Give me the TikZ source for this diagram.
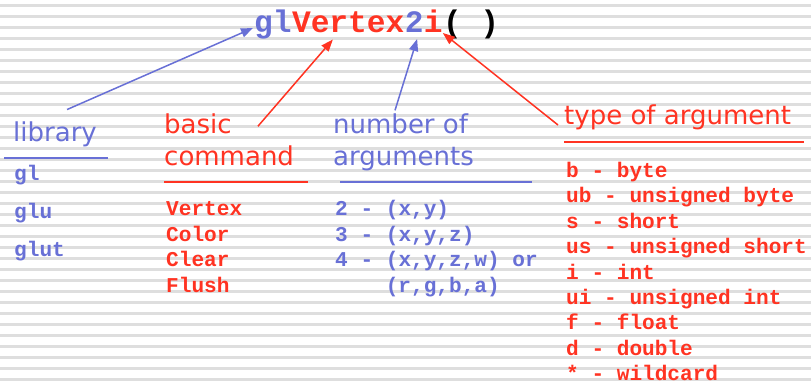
\documentclass[tikz,border=0pt]{standalone}
\usepackage{fontspec}
\newfontfamily\codefont{Liberation Mono}
\newfontfamily\headfont{DejaVu Sans}
\usetikzlibrary{arrows.meta,calc}

\definecolor{libblue}{RGB}{104,112,214}
\definecolor{cmdred}{RGB}{255,51,34}

\tikzset{
  stripe/.style={line width=2.4pt, black!13},
  titlepart/.style={inner sep=0pt, anchor=base west, font=\codefont\bfseries\fontsize{31.2}{31.2}\selectfont},
  header/.style={inner sep=0pt, anchor=base west, font=\headfont\fontsize{26}{26}\selectfont},
  code/.style={inner sep=0pt, anchor=base west, font=\codefont\bfseries\fontsize{21.1}{21.1}\selectfont},
  rule/.style={line width=1.4pt},
  pointer/.style={line width=1.5pt, -{Triangle[length=12pt,width=9pt]}},
}

\begin{document}
\begin{tikzpicture}[x=1pt,y=1pt]
  % page and striped background
  \useasboundingbox (0,0) rectangle (811,-383);
  \fill[white] (0,0) rectangle (811,-383);
  \foreach \k in {0,...,34}
    \draw[stripe] (0,-5.5-11*\k) -- (811,-5.5-11*\k);

  % the function name, one node per part
  \node[titlepart, libblue] (tgl) at (254,-32.5) {gl};
  \node[titlepart, cmdred] (tvertex) at (tgl.base east) {Vertex};
  \node[titlepart, libblue] (ttwo) at (tvertex.base east) {2};
  \node[titlepart, cmdred] (ti) at (ttwo.base east) {i};
  \node[titlepart, black] (tparen) at (ti.base east) {( )};

  % column headers
  \node[header, libblue] (library) at (13,-141.5) {library};
  \node[header, cmdred] (basic) at (164,-133.3) {basic};
  \node[header, cmdred] (command) at (164,-165) {command};
  \node[header, libblue] (number) at (333,-133.3) {number of};
  \node[header, libblue] (arguments) at (333,-165) {arguments};
  \node[header, cmdred] (type) at (564,-124) {type of argument};

  % rules under the headers
  \draw[rule, libblue] (4,-158) -- (108,-158);
  \draw[rule, cmdred] (164,-182) -- (308,-182);
  \draw[rule, libblue] (340,-182) -- (532,-182);
  \draw[rule, cmdred] (564,-142) -- (804,-142);

  % column entries
  \foreach \name [count=\i] in {gl, glu, glut}
    \node[code, libblue] (lib\i) at (14,{-180-38.4*(\i-1)}) {\name};
  \foreach \name [count=\i] in {Vertex, Color, Clear, Flush}
    \node[code, cmdred] (cmd\i) at (166,{-215.5-25.7*(\i-1)}) {\name};
  \foreach \name [count=\i] in {{2 - (x,y)}, {3 - (x,y,z)}, {4 - (x,y,z,w) or}}
    \node[code, libblue] (num\i) at (335,{-215.5-25.7*(\i-1)}) {\name};
  \node[code, libblue] (num4) at (385.6,-292.6) {(r,g,b,a)};
  \foreach \name [count=\i] in {b - byte, ub - unsigned byte, s - short,
      us - unsigned short, i - int, ui - unsigned int, f - float,
      d - double, * - wildcard}
    \node[code, cmdred] (typ\i) at (566,{-177.5-25.4*(\i-1)}) {\name};

  % pointers from the headers to the parts of the name
  \draw[pointer, libblue] ($(library.north)+(12,12)$) -- ($(tgl.base west)+(-1,4.5)$);
  \draw[pointer, cmdred] ($(basic.base east)+(26,7)$) -- ($(tvertex.base west)+(41,-7)$);
  \draw[pointer, libblue] ($(number.north west)+(62,3)$) -- ($(ttwo.base)+(3,-6.5)$);
  \draw[pointer, cmdred] ($(type.base west)+(-6,-1)$) -- ($(ti.base east)+(0,-0.5)$);
\end{tikzpicture}
\end{document}
